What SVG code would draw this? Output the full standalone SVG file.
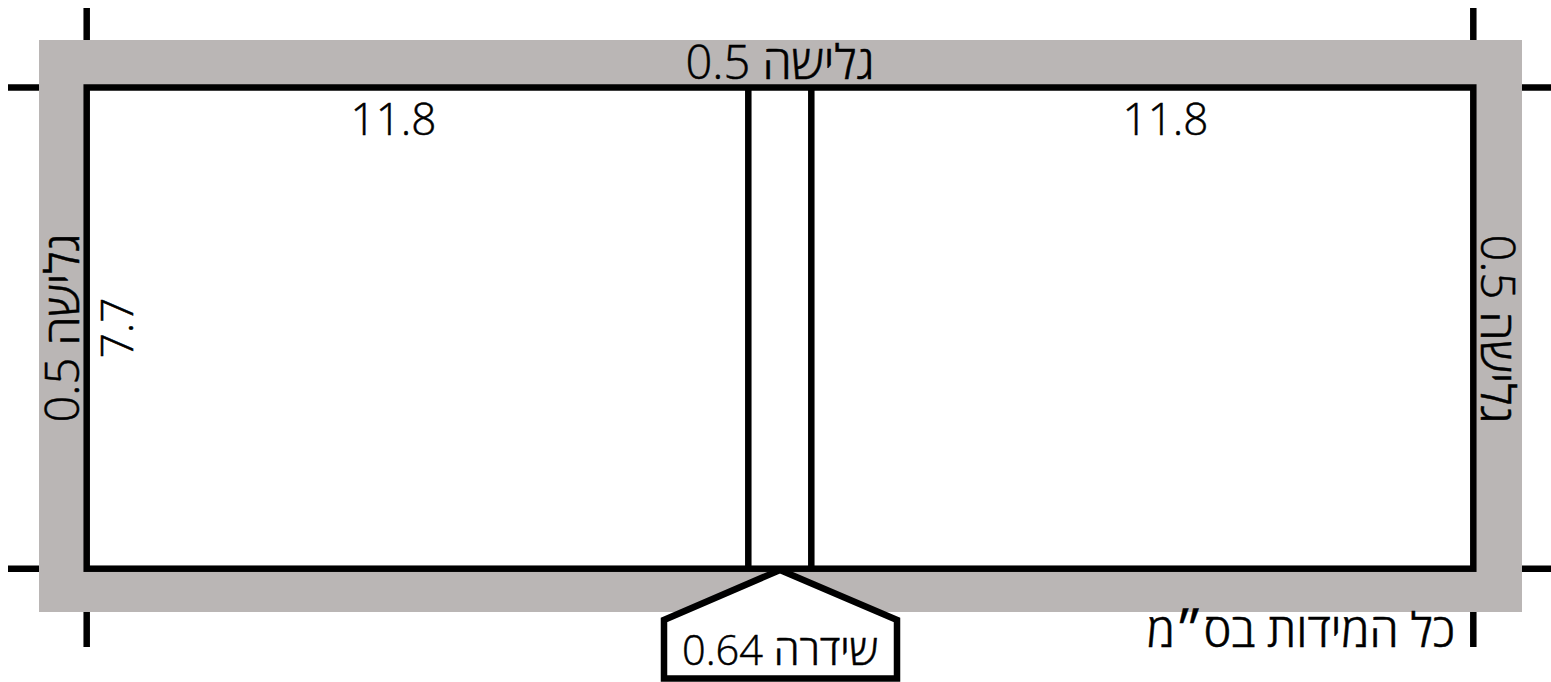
<svg xmlns="http://www.w3.org/2000/svg" width="1551" height="682" viewBox="0 0 1551 682">
<style>
.l{stroke:#000;stroke-width:6.5;fill:none}
.t{font-family:"Open Sans","Noto Sans","Liberation Sans",sans-serif;font-weight:300;font-size:47px;fill:#000;stroke:#000;stroke-width:.5;text-anchor:middle}
.n{font-size:44px}
.s{font-size:41.5px}
.w{fill:#fff}
</style>
<rect width="1551" height="682" fill="#fff"/>
<g id="marks">
<path class="l" d="M86.7 8V40M1473.3 8V40M86.7 612V647M1473.3 612V647M8 87.5H39M1522 87.5H1551M8 568.7H39M1522 568.7H1551"/>
</g>
<g id="bleed">
<path fill="#bab6b5" fill-rule="evenodd" d="M39 40H1522V612H39ZM87 88V568H1473V88Z"/>
<text class="t" x="780" y="79" direction="rtl">גלישה 0.5</text>
<text class="t" transform="translate(79 328) rotate(-90)" direction="rtl">גלישה 0.5</text>
<text class="t" transform="translate(1481 329) rotate(90)" direction="rtl">גלישה 0.5</text>
</g>
<g id="pages">
<rect class="l w" x="86.7" y="87.5" width="1386.6" height="481.2"/>
<path class="l" d="M748.3 88V568M811.3 88V568"/>
<text class="t n" x="393.5" y="135">11.8</text>
<text class="t n" x="1165.5" y="135">11.8</text>
<text class="t n" transform="translate(133 328) rotate(-90)">7.7</text>
</g>
<g id="spine">
<path class="l w" d="M780 570L897 620V678.5H664V620Z"/>
<text class="t s" x="780" y="665" direction="rtl">שידרה 0.64</text>
</g>
<g id="note">
<text class="t" x="1301" y="647" direction="rtl">כל המידות בס״מ</text>
</g>
</svg>
